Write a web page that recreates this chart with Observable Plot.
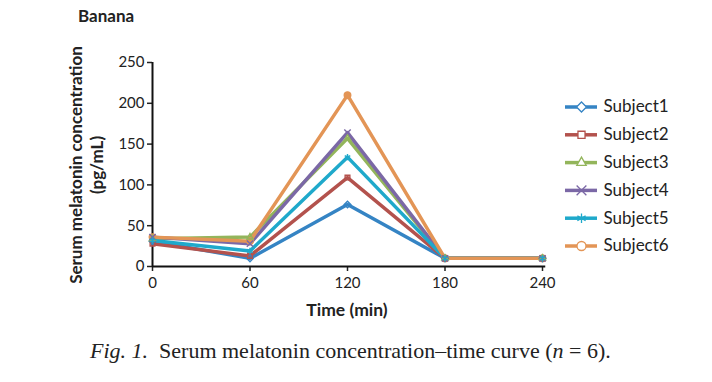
<!DOCTYPE html>
<html><head><meta charset="utf-8">
<script src="https://cdn.jsdelivr.net/npm/d3@7"></script>
<script src="https://cdn.jsdelivr.net/npm/@observablehq/plot@0.6"></script>
<style>
body{margin:0;background:#fff;}
#wrap{position:relative;width:712px;height:382px;overflow:hidden;font-family:Lato,"Open Sans",sans-serif;}
#title{position:absolute;left:78px;top:5px;font-weight:bold;font-size:17px;color:#222;}
#ylab{position:absolute;left:86px;top:165px;transform:translate(-50%,-50%) rotate(-90deg);font-weight:bold;font-size:17px;line-height:21px;text-align:center;white-space:nowrap;color:#222;}
#xlab{position:absolute;left:347px;top:299px;transform:translateX(-50%);font-weight:bold;font-size:17.5px;color:#222;white-space:nowrap;}
#cap{position:absolute;left:90px;top:338px;font-family:"Liberation Serif","DejaVu Serif",serif;font-size:22px;color:#222;white-space:nowrap;}
#chart{position:absolute;left:0;top:0;}
</style></head>
<body><div id="wrap">
<div id="chart"></div>
<div id="title">Banana</div>
<div id="ylab">Serum melatonin concentration<br>(pg/mL)</div>
<div id="xlab">Time (min)</div>
<div id="cap"><i>Fig. 1.</i>&nbsp; Serum melatonin concentration–time curve (<i>n</i> = 6).</div>
</div>
<script>
const times = [0, 60, 120, 180, 240];
const subjects = ["Subject1","Subject2","Subject3","Subject4","Subject5","Subject6"];
const s1 = [31, 10, 76, 10, 10];
const s2 = [28, 13, 109, 10, 10];
const s3 = [34, 36, 157, 10, 10];
const s4 = [36, 28, 164, 10, 10];
const s5 = [32, 19, 134, 10, 10];
const s6 = [36, 31, 210, 10, 10];
const yTicks = [0, 50, 100, 150, 200, 250];
const xTicks = [0, 60, 120, 180, 240];
const colors = ["#3584C4", "#B3524D", "#93B55B", "#7B68A6", "#1FA9CB", "#E39556"];
const symbols = ["diamond2", "square2", "triangle2", "times", "asterisk", "circle"];
const fills = ["none", "none", "none", "none", "none", "#E39556"];

const series = [s1, s2, s3, s4, s5, s6];
const rows = [];
series.forEach((vals, i) => vals.forEach((v, j) => rows.push({subject: subjects[i], idx: i, time: times[j], value: v})));
const legend = subjects.map((s, i) => ({subject: s, idx: i}));

const chart = Plot.plot({
  width: 712, height: 330,
  marginLeft: 152, marginRight: 170, marginTop: 62, marginBottom: 64,
  style: {fontFamily: "Lato, 'Open Sans', sans-serif", fontSize: "15px", color: "#222", background: "transparent", overflow: "visible"},
  x: {domain: [0, 240], label: null},
  y: {domain: [0, 250], label: null},
  color: {domain: subjects, range: colors},
  marks: [
    Plot.axisY({ticks: yTicks, tickSize: 5, tickPadding: 3, strokeWidth: 1.5, fontSize: 15, label: null}),
    Plot.axisX({ticks: xTicks, tickSize: 5, tickPadding: 6, strokeWidth: 1.5, fontSize: 15, label: null}),
    Plot.ruleX([0], {stroke: "#111", strokeWidth: 2}),
    Plot.ruleY([0], {stroke: "#111", strokeWidth: 2, x1: 0, x2: 242}),
    Plot.lineY(rows, {x: "time", y: "value", z: "subject", stroke: "subject", strokeWidth: 3.5}),
    Plot.dot(rows, {x: "time", y: "value", stroke: "subject", symbol: d => symbols[d.idx], fill: d => fills[d.idx], r: d => d.idx === 5 ? 6 : 5, strokeWidth: 1.4})
  ]
});
document.getElementById("chart").appendChild(chart);

const leg = Plot.plot({
  width: 160, height: 180,
  margin: 0,
  style: {fontFamily: "Lato, 'Open Sans', sans-serif", fontSize: "17px", color: "#222", background: "transparent", overflow: "visible"},
  x: {domain: [0, 160], axis: null},
  y: {domain: [0, 5], range: [16.5, 155.5], axis: null},
  color: {domain: subjects, range: colors},
  marks: [
    Plot.ruleY(legend, {y: "idx", x1: 5, x2: 37, stroke: "subject", strokeWidth: 3.5}),
    Plot.dot(legend, {x: 21, y: "idx", stroke: "subject", symbol: d => symbols[d.idx], fill: "white", r: 4.5, strokeWidth: 1.3}),
    Plot.text(legend, {x: 43, y: "idx", text: "subject", textAnchor: "start", fill: "#222", fontSize: 17})
  ]
});
leg.style.position = "absolute";
leg.style.left = "560px";
leg.style.top = "90px";
document.getElementById("wrap").appendChild(leg);
</script>
</body></html>
